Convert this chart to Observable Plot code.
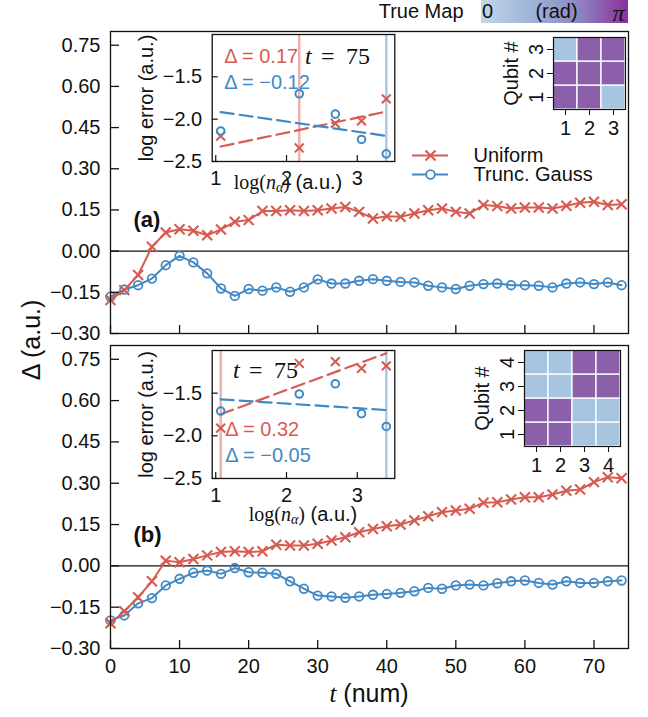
<!DOCTYPE html>
<html><head><meta charset="utf-8">
<script src="https://cdn.jsdelivr.net/npm/d3@7"></script>
<script src="https://cdn.jsdelivr.net/npm/@observablehq/plot@0.6"></script>
<style>
body{margin:0;background:#fff}
#root{position:relative;width:648px;height:717px;overflow:hidden;background:#fff}
</style></head><body><div id="root"></div>
<script>
// ---------- data ----------
const tSteps = [0,2,4,6,8,10,12,14,16,18,20,22,24,26,28,30,32,34,36,38,40,42,44,46,48,50,52,54,56,58,60,62,64,66,68,70,72,74];
const uniformA = [-0.178,-0.142,-0.087,0.016,0.068,0.080,0.074,0.058,0.079,0.107,0.113,0.146,0.146,0.149,0.146,0.149,0.155,0.161,0.143,0.119,0.127,0.125,0.137,0.149,0.155,0.143,0.137,0.168,0.164,0.155,0.159,0.159,0.155,0.165,0.176,0.180,0.168,0.171];
const gaussA = [-0.166,-0.140,-0.124,-0.100,-0.051,-0.017,-0.041,-0.081,-0.136,-0.163,-0.138,-0.144,-0.132,-0.148,-0.132,-0.103,-0.118,-0.118,-0.108,-0.102,-0.108,-0.112,-0.114,-0.126,-0.132,-0.138,-0.126,-0.120,-0.118,-0.124,-0.124,-0.126,-0.132,-0.118,-0.114,-0.120,-0.114,-0.124];
const uniformB = [-0.208,-0.165,-0.114,-0.056,0.019,0.013,0.025,0.038,0.050,0.053,0.050,0.053,0.077,0.074,0.074,0.080,0.092,0.104,0.122,0.134,0.144,0.150,0.165,0.180,0.195,0.201,0.207,0.229,0.231,0.241,0.249,0.249,0.259,0.273,0.277,0.304,0.322,0.318];
const gaussB = [-0.198,-0.180,-0.136,-0.117,-0.071,-0.047,-0.025,-0.017,-0.029,-0.008,-0.023,-0.025,-0.029,-0.056,-0.083,-0.108,-0.111,-0.116,-0.111,-0.105,-0.102,-0.098,-0.092,-0.080,-0.083,-0.071,-0.068,-0.071,-0.063,-0.056,-0.053,-0.062,-0.068,-0.056,-0.062,-0.062,-0.056,-0.053];

const logN = [1.07, 2.18, 2.69, 3.06, 3.41];
const errUniformA = [-2.20, -2.34, -2.05, -2.02, -1.76];
const errGaussA   = [-2.14, -1.70, -1.94, -2.24, -2.41];
const errUniformB = [-1.91, -1.15, -1.13, -1.21, -1.18];
const errGaussB   = [-1.71, -1.51, -1.39, -1.74, -1.89];

// true maps (rows = qubit 1..n, columns 1..n), values in rad
const PI = Math.PI;
const trueMapA = [[PI, PI, 0], [PI, PI, PI], [0, PI, PI]];
const trueMapB = [[PI, PI, 0, 0], [PI, PI, 0, 0], [0, 0, PI, PI], [0, 0, PI, PI]];

const xTicks = [0, 10, 20, 30, 40, 50, 60, 70];
const yTicks = [-0.30, -0.15, 0.00, 0.15, 0.30, 0.45, 0.60, 0.75];
const insetXTicks = [1, 2, 3];
const insetYTicks = [-2.5, -2.0, -1.5];
const seriesNames = ["Uniform", "Trunc. Gauss"];

// ---------- style ----------
const FONT = '"Liberation Sans", Arial, Helvetica, sans-serif';
const SERIF = '"Liberation Serif", "DejaVu Serif", serif';
const RED = "#d65c52", BLUE = "#4189c5";
const RED_LIGHT = "#eeb0ae", BLUE_LIGHT = "#a9cae6";
const LIGHT = "#a7c4e0", PURPLE = "#8b5fa9";
const CB_COLORS = ["#c2d6ea", "#9fb5d9", "#8d86c0", "#8a2f9c"];
const INK = "#111";
const baseStyle = {background: "none", overflow: "visible", fontFamily: FONT, fontSize: "20px", color: INK};

const root = document.getElementById("root");
function place(el, left, top) {
  el.style.position = "absolute";
  el.style.left = left + "px";
  el.style.top = top + "px";
  el.style.maxWidth = "none";
  root.appendChild(el);
}

// ---------- main panels ----------
function mainPanel(uni, gau, {height, mt, mb, showX, tag, tagDy}) {
  const rows = tSteps.map((t, i) => ({t, u: uni[i], g: gau[i]}));
  return Plot.plot({
    width: 648, height, marginLeft: 110, marginRight: 20, marginTop: mt, marginBottom: mb,
    style: baseStyle,
    x: {domain: [0, 75], label: null},
    y: {domain: [-0.30, 0.80], label: null},
    marks: [
      Plot.ruleY([0], {stroke: INK, strokeWidth: 1.4}),
      Plot.line(rows, {x: "t", y: "g", stroke: BLUE, strokeWidth: 2}),
      Plot.dot(rows, {x: "t", y: "g", r: 4.3, stroke: BLUE, strokeWidth: 1.8, fill: "none"}),
      Plot.line(rows, {x: "t", y: "u", stroke: RED, strokeWidth: 2}),
      Plot.dot(rows, {x: "t", y: "u", symbol: "times", r: 4.6, stroke: RED, strokeWidth: 2.1}),
      Plot.axisX({ticks: xTicks, tickSize: -8, tickPadding: 18, strokeWidth: 1.3, label: null,
                  tickFormat: showX ? (d => String(d)) : (() => "")}),
      Plot.axisY({ticks: yTicks, tickSize: -9, tickPadding: 19, strokeWidth: 1.3, label: null,
                  tickFormat: d3.format(".2f")}),
      Plot.frame({stroke: INK, strokeWidth: 1.3}),
      Plot.text([tag], {frameAnchor: "top-left", dx: 23, dy: tagDy, textAnchor: "start",
                        lineAnchor: "middle", fontWeight: "bold", fontSize: 22})
    ]
  });
}
place(mainPanel(uniformA, gaussA, {height: 345, mt: 31, mb: 12, showX: false, tag: "(a)", tagDy: 188}), 0, 0);
place(mainPanel(uniformB, gaussB, {height: 384, mt: 12, mb: 69, showX: true, tag: "(b)", tagDy: 189}), 0, 333);

// ---------- insets ----------
function insetPlot(errU, errG, {frameH, texts}) {
  const ru = logN.map((n, i) => ({n, e: errU[i]}));
  const rg = logN.map((n, i) => ({n, e: errG[i]}));
  const minU = d3.least(ru, d => d.e).n;
  const minG = d3.least(rg, d => d.e).n;
  return Plot.plot({
    width: 86.7 + 182.6 + 5, height: 4 + frameH + 45,
    marginLeft: 86.7, marginRight: 5, marginTop: 4, marginBottom: 45,
    style: baseStyle,
    x: {domain: [0.95, 3.53], label: null},
    y: {domain: [-2.5, -1.0], label: null},
    marks: [
      Plot.frame({fill: "white", stroke: null}),
      Plot.ruleX([minU], {stroke: RED_LIGHT, strokeWidth: 2.5}),
      Plot.ruleX([minG], {stroke: BLUE_LIGHT, strokeWidth: 2.5}),
      Plot.linearRegressionY(ru, {x: "n", y: "e", stroke: RED, strokeWidth: 2.2, strokeDasharray: "13,6", ci: 0}),
      Plot.linearRegressionY(rg, {x: "n", y: "e", stroke: BLUE, strokeWidth: 2.2, strokeDasharray: "13,6", ci: 0}),
      Plot.dot(ru, {x: "n", y: "e", symbol: "times", r: 4.1, stroke: RED, strokeWidth: 2.1}),
      Plot.dot(rg, {x: "n", y: "e", r: 3.8, stroke: BLUE, strokeWidth: 2, fill: "none"}),
      Plot.axisX({ticks: insetXTicks, tickSize: -6, tickPadding: 15, strokeWidth: 1.2, label: null,
                  tickFormat: d => String(d)}),
      Plot.axisY({ticks: insetYTicks, tickSize: -6, tickPadding: 16, strokeWidth: 1.2, label: null,
                  tickFormat: d3.format(".1f")}),
      Plot.frame({stroke: INK, strokeWidth: 1.3}),
      Plot.text(["log error (a.u.)"], {frameAnchor: "left", dx: -66, rotate: -90, textAnchor: "middle", lineAnchor: "middle"}),
      ...texts.map(tx => Plot.text([tx.text], {frameAnchor: "top-left", dx: tx.dx, dy: tx.dy,
                        textAnchor: "start", lineAnchor: "middle", fill: tx.color}))
    ]
  });
}
place(insetPlot(errUniformA, errGaussA, {frameH: 127, texts: [
  {text: "Δ = 0.17", color: RED, dx: 12, dy: 22},
  {text: "Δ = −0.12", color: BLUE, dx: 12, dy: 48}
]}), 125, 30);
place(insetPlot(errUniformB, errGaussB, {frameH: 128, texts: [
  {text: "Δ = 0.32", color: RED, dx: 13, dy: 79},
  {text: "Δ = −0.05", color: BLUE, dx: 13, dy: 105}
]}), 125, 346);

// ---------- heatmaps ----------
function heatmapPlot(matrix) {
  const n = matrix.length;
  const idx = d3.range(1, n + 1);
  const cells = matrix.flatMap((row, qi) => row.map((v, ci) => ({q: qi + 1, c: ci + 1, v})));
  const cell = 24;
  return Plot.plot({
    width: 60 + n * cell + 6, height: 2 + n * cell + 36,
    marginLeft: 60, marginRight: 6, marginTop: 2, marginBottom: 36,
    style: baseStyle,
    x: {type: "band", domain: idx, padding: 0, label: null},
    y: {type: "band", domain: idx.slice().reverse(), padding: 0, label: null},
    color: {type: "linear", domain: [0, PI], range: [LIGHT, PURPLE]},
    marks: [
      Plot.cell(cells, {x: "c", y: "q", fill: "v", stroke: "white", strokeWidth: 1.3}),
      Plot.frame({stroke: INK, strokeWidth: 1.2}),
      Plot.axisX({tickSize: 6, tickPadding: 5, label: null}),
      Plot.axisY({tickSize: 6, tickPadding: 5, tickRotate: -90, label: null}),
      Plot.text(["Qubit #"], {frameAnchor: "left", dx: -42, rotate: -90, textAnchor: "middle", lineAnchor: "middle"})
    ]
  });
}
place(heatmapPlot(trueMapA), 492.7, 35.3);
place(heatmapPlot(trueMapB), 464.3, 348);

// ---------- colorbar (True Map) ----------
const cbSteps = d3.range(0, 150).map(i => i / 150 * PI);
const cb = Plot.plot({
  width: 147, height: 23, margin: 0,
  style: baseStyle,
  x: {domain: [0, PI], axis: null},
  y: {domain: [0, 1], axis: null},
  color: {type: "linear", domain: [0, PI], interpolate: d3.piecewise(d3.interpolateRgb, CB_COLORS)},
  marks: [
    Plot.rect(cbSteps, {x1: d => d, x2: d => d + PI / 140, y1: 0, y2: 1, fill: d => d + PI / 300, shapeRendering: "crispEdges"}),
    Plot.text(["True Map"], {frameAnchor: "left", dx: -18, textAnchor: "end"}),
    Plot.text(["0"], {frameAnchor: "left", dx: 6, textAnchor: "middle"}),
    Plot.text(["(rad)"], {frameAnchor: "left", dx: 75, textAnchor: "middle"}),
    Plot.text(["π"], {frameAnchor: "left", dx: 137, dy: 1, textAnchor: "middle", fontFamily: SERIF, fontStyle: "italic", fontSize: 24})
  ]
});
place(cb, 481, 0);

// ---------- legend ----------
const legendItems = [
  {name: seriesNames[0], color: RED, symbol: "times"},
  {name: seriesNames[1], color: BLUE, symbol: "circle"}
];
const lg = Plot.plot({
  width: 36 + 200, height: 38, marginLeft: 0, marginRight: 200, marginTop: 0, marginBottom: 0,
  style: baseStyle,
  x: {domain: [0, 1], axis: null},
  y: {type: "point", domain: seriesNames, padding: 0.5, axis: null},
  marks: [
    Plot.ruleY(legendItems, {y: "name", stroke: d => d.color, strokeWidth: 2}),
    Plot.dot(legendItems.slice(0, 1), {y: "name", frameAnchor: "left", dx: 18, symbol: "times", r: 4.6, stroke: RED, strokeWidth: 2.1}),
    Plot.dot(legendItems.slice(1), {y: "name", frameAnchor: "left", dx: 18, r: 4.3, stroke: BLUE, strokeWidth: 1.8, fill: "white"}),
    Plot.text(legendItems, {y: "name", text: "name", frameAnchor: "right", dx: 25, textAnchor: "start"})
  ]
});
place(lg, 412, 144.5);

// ---------- overlay text labels ----------
const ov = d3.create("svg").attr("width", 648).attr("height", 717)
  .style("position", "absolute").style("left", "0px").style("top", "0px").style("overflow", "visible")
  .attr("fill", INK);
ov.append("text").attr("transform", "translate(31,340) rotate(-90)")
  .attr("text-anchor", "middle").attr("dominant-baseline", "central")
  .attr("font-family", FONT).attr("font-size", 25).text("Δ (a.u.)");
const xl = ov.append("text").attr("x", 369).attr("y", 693).attr("text-anchor", "middle")
  .attr("dominant-baseline", "central").attr("font-size", 25);
xl.append("tspan").attr("font-family", SERIF).attr("font-style", "italic").text("t");
xl.append("tspan").attr("font-family", FONT).text(" (num)");

function logLabel(cx, cy) {
  const t = ov.append("text").attr("x", cx).attr("y", cy).attr("text-anchor", "middle")
    .attr("dominant-baseline", "central").attr("font-size", 20);
  t.append("tspan").attr("font-family", SERIF).text("log(");
  t.append("tspan").attr("font-family", SERIF).attr("font-style", "italic").text("n");
  t.append("tspan").attr("font-family", SERIF).attr("font-style", "italic").attr("font-size", 14).attr("dy", 5).text("α");
  t.append("tspan").attr("font-family", SERIF).attr("dy", -5).text(")");
  t.append("tspan").attr("font-family", FONT).text(" (a.u.)");
}
logLabel(288, 182);
logLabel(303, 514);

function tLabel(x0, cy) {
  const g = ov.append("g").attr("font-family", SERIF).attr("font-size", 24);
  g.append("text").attr("x", x0).attr("y", cy).attr("dominant-baseline", "central").attr("font-style", "italic").text("t");
  g.append("text").attr("x", x0 + 16).attr("y", cy).attr("dominant-baseline", "central").text("=");
  g.append("text").attr("x", x0 + 41).attr("y", cy).attr("dominant-baseline", "central").text("75");
}
tLabel(305, 56);
tLabel(233, 370);

root.appendChild(ov.node());
</script>
</body></html>
